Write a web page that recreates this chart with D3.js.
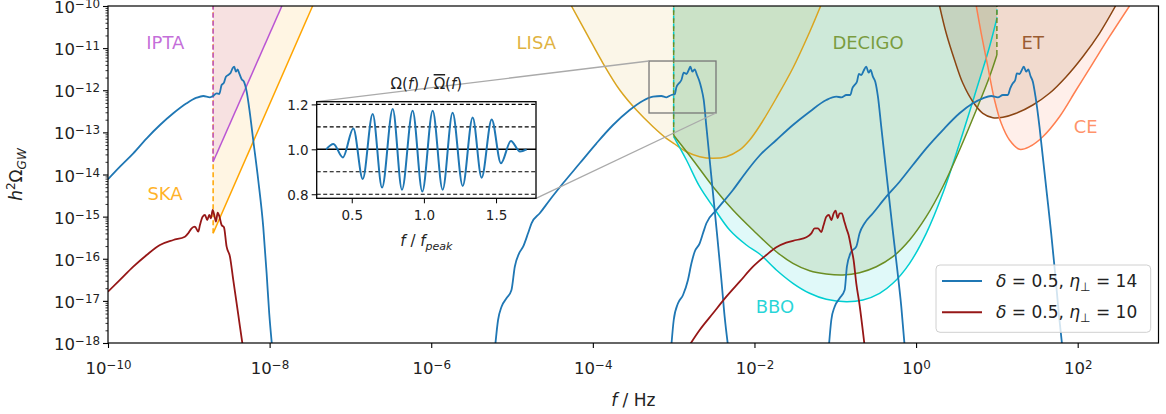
<!DOCTYPE html>
<html><head><meta charset="utf-8">
<script src="https://cdn.jsdelivr.net/npm/d3@7"></script>
<style>
body{margin:0;background:#fff;}
svg{display:block;font-family:"DejaVu Sans",sans-serif;}
</style>
</head><body>
<svg id="chart" width="1166" height="414"></svg>
<script>
// ---------- DATA (pairs are [log10 f/Hz, log10 h^2 Omega_GW]) ----------
const blueA = [[-10.0,-14.114],[-9.852,-13.815],[-9.687,-13.497],[-9.521,-13.141],[-9.357,-12.825],[-9.192,-12.547],[-9.027,-12.310],[-8.903,-12.177],[-8.821,-12.136],[-8.738,-12.167],[-8.698,-12.136],[-8.656,-12.072],[-8.623,-12.089],[-8.594,-11.875],[-8.565,-11.821],[-8.541,-11.678],[-8.512,-11.638],[-8.482,-11.583],[-8.458,-11.479],[-8.438,-11.441],[-8.417,-11.560],[-8.396,-11.503],[-8.376,-11.598],[-8.346,-11.740],[-8.318,-11.797],[-8.284,-12.034],[-8.244,-12.547],[-8.203,-13.181],[-8.141,-14.131],[-8.079,-15.239],[-8.037,-16.345],[-8.005,-17.295],[-7.975,-17.969],[-7.965,-18.17]];
const blueB = [[-5.21,-18.1],[-5.173,-17.454],[-5.130,-17.138],[-5.069,-16.939],[-5.007,-16.742],[-4.966,-16.189],[-4.913,-15.871],[-4.863,-15.714],[-4.802,-15.396],[-4.759,-15.158],[-4.657,-14.921],[-4.533,-14.605],[-4.369,-14.209],[-4.162,-13.734],[-3.955,-13.259],[-3.750,-12.825],[-3.544,-12.469],[-3.379,-12.248],[-3.255,-12.153],[-3.152,-12.136],[-3.090,-12.167],[-3.028,-12.113],[-2.987,-12.096],[-2.966,-11.930],[-2.934,-11.835],[-2.904,-11.757],[-2.876,-11.583],[-2.842,-11.614],[-2.814,-11.519],[-2.793,-11.441],[-2.768,-11.560],[-2.740,-11.503],[-2.711,-11.638],[-2.686,-11.757],[-2.657,-11.954],[-2.628,-12.231],[-2.595,-12.865],[-2.554,-13.656],[-2.513,-14.446],[-2.464,-15.396],[-2.409,-16.504],[-2.369,-17.376],[-2.325,-18.1]];
const blueC = [[-3.03,-18.1],[-2.999,-17.454],[-2.946,-17.058],[-2.884,-16.861],[-2.823,-16.504],[-2.780,-16.108],[-2.740,-15.833],[-2.678,-15.633],[-2.637,-15.396],[-2.595,-15.158],[-2.471,-14.843],[-2.266,-14.368],[-2.100,-13.934],[-1.936,-13.549],[-1.729,-13.181],[-1.524,-12.825],[-1.317,-12.509],[-1.111,-12.231],[-0.987,-12.153],[-0.925,-12.167],[-0.863,-12.113],[-0.814,-12.113],[-0.789,-11.954],[-0.761,-11.875],[-0.732,-11.797],[-0.707,-11.614],[-0.678,-11.638],[-0.649,-11.536],[-0.616,-11.441],[-0.587,-11.583],[-0.563,-11.519],[-0.534,-11.678],[-0.505,-11.797],[-0.472,-12.153],[-0.431,-12.865],[-0.390,-13.577],[-0.349,-14.290],[-0.294,-15.239],[-0.237,-16.189],[-0.183,-17.138],[-0.140,-18.1]];
const blueD = [[-1.08,-18.1],[-1.049,-17.454],[-1.008,-17.138],[-0.946,-16.939],[-0.884,-16.742],[-0.856,-16.189],[-0.802,-15.833],[-0.740,-15.714],[-0.699,-15.396],[-0.637,-15.158],[-0.534,-14.921],[-0.369,-14.527],[-0.204,-14.171],[-0.040,-13.774],[0.126,-13.378],[0.331,-12.944],[0.538,-12.547],[0.703,-12.310],[0.826,-12.191],[0.930,-12.136],[1.012,-12.167],[1.074,-12.113],[1.136,-12.113],[1.165,-11.954],[1.197,-11.835],[1.227,-11.757],[1.247,-11.598],[1.280,-11.614],[1.309,-11.519],[1.333,-11.441],[1.363,-11.560],[1.388,-11.503],[1.416,-11.662],[1.445,-11.797],[1.478,-12.153],[1.527,-12.865],[1.568,-13.577],[1.618,-14.446],[1.672,-15.396],[1.725,-16.426],[1.766,-17.295],[1.810,-18.1]];
const redA = [[-10.0,-16.782],[-9.852,-16.504],[-9.687,-16.189],[-9.521,-15.911],[-9.357,-15.674],[-9.192,-15.555],[-9.048,-15.477],[-9.007,-15.396],[-8.965,-15.277],[-8.924,-15.239],[-8.883,-15.358],[-8.862,-15.199],[-8.829,-15.002],[-8.800,-14.961],[-8.772,-15.080],[-8.747,-14.961],[-8.726,-15.040],[-8.705,-14.843],[-8.685,-14.961],[-8.664,-15.120],[-8.643,-14.907],[-8.623,-14.985],[-8.594,-15.199],[-8.565,-15.253],[-8.532,-15.714],[-8.491,-15.951],[-8.450,-16.504],[-8.408,-17.058],[-8.367,-17.613],[-8.330,-18.1]];
const redB = [[-2.82,-18.1],[-2.678,-17.691],[-2.513,-17.295],[-2.348,-16.901],[-2.183,-16.545],[-2.019,-16.189],[-1.853,-15.911],[-1.729,-15.728],[-1.606,-15.619],[-1.482,-15.555],[-1.358,-15.491],[-1.296,-15.396],[-1.255,-15.277],[-1.215,-15.277],[-1.173,-15.365],[-1.144,-15.199],[-1.111,-15.002],[-1.079,-14.961],[-1.049,-15.080],[-1.020,-14.921],[-0.996,-14.859],[-0.971,-15.033],[-0.946,-14.921],[-0.918,-14.921],[-0.893,-15.080],[-0.863,-15.277],[-0.835,-15.436],[-0.802,-15.752],[-0.773,-16.030],[-0.740,-16.583],[-0.699,-17.098],[-0.635,-18.1]];

const ipta   = [[-8.699,-13.696],[-7.848,-10]];
const ska    = [[-8.699,-15.396],[-7.468,-10]];
const lisa   = [[-4.265,-10],[-4.079,-10.648],[-3.874,-11.360],[-3.667,-11.994],[-3.461,-12.469],[-3.255,-12.865],[-3.090,-13.141],[-2.987,-13.276],[-2.842,-13.459],[-2.678,-13.577],[-2.513,-13.615],[-2.348,-13.577],[-2.183,-13.418],[-2.059,-13.181],[-1.936,-12.849],[-1.729,-12.184],[-1.524,-11.472],[-1.317,-10.617],[-1.181,-10]];
const decigo = [[-3.0,-13.07],[-2.761,-13.656],[-2.513,-14.290],[-2.266,-14.843],[-2.019,-15.318],[-1.729,-15.833],[-1.524,-16.108],[-1.317,-16.284],[-1.111,-16.362],[-0.905,-16.386],[-0.699,-16.331],[-0.492,-16.189],[-0.287,-15.951],[-0.080,-15.555],[0.126,-15.002],[0.331,-14.290],[0.538,-13.418],[0.745,-12.469],[0.909,-11.678],[1.0,-11.163]];
const bbo    = [[-3.0,-13.1],[-2.842,-13.656],[-2.678,-14.290],[-2.513,-14.764],[-2.307,-15.318],[-2.100,-15.674],[-1.936,-15.887],[-1.729,-16.267],[-1.524,-16.583],[-1.317,-16.820],[-1.111,-16.963],[-0.863,-17.020],[-0.658,-16.979],[-0.451,-16.820],[-0.287,-16.583],[-0.080,-16.108],[0.126,-15.396],[0.331,-14.446],[0.538,-13.259],[0.745,-11.994],[0.909,-10.966],[1.0,-10.292]];
const et     = [[0.291,-10],[0.373,-10.648],[0.476,-11.282],[0.579,-11.835],[0.703,-12.272],[0.826,-12.547],[0.950,-12.652],[1.074,-12.642],[1.239,-12.547],[1.445,-12.350],[1.651,-12.072],[1.858,-11.678],[2.063,-11.204],[2.270,-10.648],[2.468,-10]];
const ce     = [[0.745,-10],[0.806,-10.648],[0.888,-11.441],[0.971,-12.231],[1.054,-12.785],[1.156,-13.181],[1.280,-13.402],[1.404,-13.340],[1.568,-13.103],[1.775,-12.628],[1.981,-11.994],[2.187,-11.360],[2.393,-10.729],[2.641,-10]];

// zoomed region (f range, h^2 Omega range), log10
const zoomBoxF = [-3.305, -2.476];
const zoomBoxO = [-12.54, -11.306];

// inset: Omega / Omega_bar versus f / f_peak
const insetX = [0.322,0.373,0.438,0.511,0.576,0.645,0.710,0.784,0.848,0.922,0.989,1.061,1.130,1.199,1.269,1.338,1.400,1.470,1.534,1.603,1.666,1.712];
const insetY = [1.0,1.024,0.964,1.093,0.868,1.157,0.830,1.179,0.820,1.172,0.812,1.172,0.820,1.163,0.837,1.142,0.874,1.133,0.938,1.037,0.990,1.0];
const insetRefLines = [0.8, 0.9, 1.0, 1.1, 1.2];

const xTickExps = [-10,-8,-6,-4,-2,0,2];
const yTickExps = [-18,-17,-16,-15,-14,-13,-12,-11,-10];
const insetXTicks = [0.5, 1.0, 1.5];
const insetYTicks = [0.8, 1.0, 1.2];

const legendLabels = ["14", "10"];

// ---------- LAYOUT ----------
const M = {l:108, r:1158.5, t:6, b:343};
const x = d3.scaleLog().domain([1e-10, 1e3]).range([M.l, M.r]);
const y = d3.scaleLog().domain([1e-18, 1e-10]).range([M.b, M.t]);
const P = a => a.map(d => [Math.pow(10,d[0]), Math.pow(10,d[1])]);
const TOP = 1e-10;

const svg = d3.select("#chart");
const defs = svg.append("defs");
defs.append("clipPath").attr("id","plotclip").append("rect")
  .attr("x",M.l).attr("y",M.t).attr("width",M.r-M.l).attr("height",M.b-M.t);

const plot = svg.append("g").attr("clip-path","url(#plotclip)");

const smooth = d3.line().x(d=>x(d[0])).y(d=>y(d[1])).curve(d3.curveCatmullRom.alpha(0.5));
const mono = d3.line().x(d=>x(d[0])).y(d=>y(d[1])).curve(d3.curveMonotoneX);
const straight = d3.line().x(d=>x(d[0])).y(d=>y(d[1]));

const detectors = [
  {name:"SKA",    data:ska,    color:"#ffa500", kind:"pta",  op:0.11},
  {name:"IPTA",   data:ipta,   color:"#ba55d3", kind:"pta",  op:0.12},
  {name:"LISA",   data:lisa,   color:"#daa520", kind:"curve",op:0.1},
  {name:"BBO",    data:bbo,    color:"#00ced1", kind:"band", op:0.12},
  {name:"DECIGO", data:decigo, color:"#6b8e23", kind:"band", op:0.15},
  {name:"ET",     data:et,     color:"#8b4513", kind:"curve",op:0.13},
  {name:"CE",     data:ce,     color:"#ff7f50", kind:"curve",op:0.12}
];

// fills
detectors.forEach(dt => {
  const pts = P(dt.data);
  const f0 = pts[0][0], f1 = pts[pts.length-1][0];
  let d;
  if (dt.kind === "pta") {
    d = straight(pts) + `L${x(f0)},${y(TOP)}Z`;
  } else {
    d = smooth(pts) + `L${x(f1)},${y(TOP)}L${x(f0)},${y(TOP)}Z`;
  }
  plot.append("path").attr("d", d).attr("fill", dt.color).attr("fill-opacity", dt.op).attr("stroke","none");
});
// lines
detectors.forEach(dt => {
  const pts = P(dt.data);
  const first = pts[0], last = pts[pts.length-1];
  const dash = dt.name === "BBO" ? {da:"5,3", off:4} : {da:"5,3", off:0};
  if (dt.kind === "pta") {
    plot.append("path").attr("d", straight(pts)).attr("fill","none").attr("stroke",dt.color).attr("stroke-width",1.5);
    plot.append("path").attr("d", straight([first,[first[0],TOP]])).attr("fill","none")
      .attr("stroke",dt.color).attr("stroke-width",1.5).attr("stroke-dasharray","5,3");
  } else {
    plot.append("path").attr("d", smooth(pts)).attr("fill","none").attr("stroke",dt.color).attr("stroke-width",1.5);
    if (dt.kind === "band") {
      plot.append("path").attr("d", straight([first,[first[0],TOP]])).attr("fill","none")
        .attr("stroke",dt.color).attr("stroke-width",1.5).attr("stroke-dasharray",dash.da).attr("stroke-dashoffset",dash.off);
      plot.append("path").attr("d", straight([last,[last[0],TOP]])).attr("fill","none")
        .attr("stroke",dt.color).attr("stroke-width",1.5).attr("stroke-dasharray",dash.da).attr("stroke-dashoffset",dash.off);
    }
  }
});

// detector labels
const labelFont = 18;
[["IPTA","#ba55d3",165.3,49],["SKA","#ffa500",165,200],["LISA","#daa520",536.3,49],
 ["DECIGO","#6b8e23",868,49],["ET","#8b4513",1032.8,49],["CE","#ff7f50",1085.7,133],["BBO","#00ced1",775,313]]
.forEach(([t,c,px,py]) => {
  svg.append("text").attr("x",px).attr("y",py).attr("text-anchor","middle")
    .attr("font-size",labelFont).attr("fill",c).attr("fill-opacity",0.85).text(t);
});

// spectra
const BLUE = "#1f77b4", RED = "#961717";
[blueA, blueB, blueC, blueD].forEach(s => {
  plot.append("path").attr("d", mono(P(s))).attr("fill","none").attr("stroke",BLUE).attr("stroke-width",1.8).attr("stroke-linejoin","round");
});
[redA, redB].forEach(s => {
  plot.append("path").attr("d", mono(P(s))).attr("fill","none").attr("stroke",RED).attr("stroke-width",1.8).attr("stroke-linejoin","round");
});

// ---------- AXES ----------
const fmtExp = e => (e < 0 ? "\u2212" + (-e) : String(e));
function powTen(sel){
  sel.each(function(d){
    const e = Math.round(Math.log10(d));
    const t = d3.select(this); t.text(null);
    t.append("tspan").text("10");
    t.append("tspan").attr("dy","-0.42em").attr("font-size","0.72em").text(fmtExp(e));
  });
}
const gx = svg.append("g").attr("transform",`translate(0,${M.b})`)
  .call(d3.axisBottom(x).tickValues(xTickExps.map(e=>Math.pow(10,e))).tickSize(5).tickSizeOuter(0));
gx.attr("font-size",16.5).attr("font-family","DejaVu Sans");
gx.select(".domain").remove();
gx.selectAll(".tick line").attr("stroke","#000").attr("stroke-width",1.1);
gx.selectAll(".tick text").attr("y",31).attr("dy",0).attr("fill","#222").call(powTen);

const gy = svg.append("g").attr("transform",`translate(${M.l},0)`)
  .call(d3.axisLeft(y).tickValues(yTickExps.map(e=>Math.pow(10,e))).tickSize(5).tickSizeOuter(0));
gy.attr("font-size",16.5).attr("font-family","DejaVu Sans");
gy.select(".domain").remove();
gy.selectAll(".tick line").attr("stroke","#000").attr("stroke-width",1.1);
gy.selectAll(".tick text").attr("x",-8).attr("dy",0).attr("y",6.5).attr("fill","#222").call(powTen);

const minorVals = y.ticks().filter(v => Math.abs(Math.log10(v) - Math.round(Math.log10(v))) > 1e-6);
const gym = svg.append("g").attr("transform",`translate(${M.l},0)`)
  .call(d3.axisLeft(y).tickValues(minorVals).tickSize(2.5).tickFormat(""));
gym.select(".domain").remove();
gym.selectAll(".tick line").attr("stroke","#000").attr("stroke-width",0.8);

svg.append("rect").attr("x",M.l).attr("y",M.t).attr("width",M.r-M.l).attr("height",M.b-M.t)
  .attr("fill","none").attr("stroke","#000").attr("stroke-width",1.2);

// axis labels
const xl = svg.append("text").attr("x",(M.l+M.r)/2).attr("y",406).attr("text-anchor","middle").attr("font-size",17).attr("fill","#222");
xl.append("tspan").attr("font-style","italic").text("f");
xl.append("tspan").text(" / Hz");

const yl = svg.append("text").attr("transform",`translate(22,${(M.t+M.b)/2}) rotate(-90)`).attr("text-anchor","middle").attr("font-size",17).attr("fill","#222");
yl.append("tspan").attr("font-style","italic").text("h");
yl.append("tspan").attr("dy",-7).attr("font-size",12).text("2");
yl.append("tspan").attr("dy",7).text("Ω");
yl.append("tspan").attr("dy",4).attr("font-size",12).attr("font-style","italic").text("GW");

// ---------- ZOOM BOX + CONNECTORS ----------
const I = {l:316.7, r:536, t:101.7, b:198.3};
const bx0 = x(Math.pow(10,zoomBoxF[0])), bx1 = x(Math.pow(10,zoomBoxF[1]));
const by0 = y(Math.pow(10,zoomBoxO[1])), by1 = y(Math.pow(10,zoomBoxO[0]));
svg.append("rect").attr("x",bx0).attr("y",by0).attr("width",bx1-bx0).attr("height",by1-by0)
  .attr("fill","none").attr("stroke","#777").attr("stroke-width",1.3);
svg.append("line").attr("x1",I.l).attr("y1",I.t).attr("x2",bx0).attr("y2",by0).attr("stroke","#aaa").attr("stroke-width",1.3);
svg.append("line").attr("x1",I.r).attr("y1",I.b).attr("x2",bx1).attr("y2",by1).attr("stroke","#aaa").attr("stroke-width",1.3);

// ---------- INSET ----------
const ix = d3.scaleLinear().domain([0.257, 1.777]).range([I.l, I.r]);
const iy = d3.scaleLinear().domain([0.782, 1.212]).range([I.b, I.t]);
const inset = svg.append("g");
inset.append("rect").attr("x",I.l).attr("y",I.t).attr("width",I.r-I.l).attr("height",I.b-I.t).attr("fill","#fff");
defs.append("clipPath").attr("id","insetclip").append("rect").attr("x",I.l).attr("y",I.t).attr("width",I.r-I.l).attr("height",I.b-I.t);
const ic = inset.append("g").attr("clip-path","url(#insetclip)");
insetRefLines.forEach(v => {
  ic.append("line").attr("x1",I.l).attr("x2",I.r).attr("y1",iy(v)).attr("y2",iy(v))
    .attr("stroke","#000").attr("stroke-width", v===1.0 ? 1.5 : 1.1)
    .attr("stroke-dasharray", v===1.0 ? null : "4,2.5");
});
const iline = d3.line().x((d,i)=>ix(insetX[i])).y(d=>iy(d)).curve(d3.curveMonotoneX);
ic.append("path").attr("d", iline(insetY)).attr("fill","none").attr("stroke",BLUE).attr("stroke-width",2);

const gix = inset.append("g").attr("transform",`translate(0,${I.b})`)
  .call(d3.axisBottom(ix).tickValues(insetXTicks).tickSize(5).tickSizeOuter(0).tickFormat(d3.format(".1f")));
gix.attr("font-size",13.5).attr("font-family","DejaVu Sans");
gix.select(".domain").remove();
gix.selectAll(".tick text").attr("y",10).attr("dy","0.9em").attr("fill","#222");
const giy = inset.append("g").attr("transform",`translate(${I.l},0)`)
  .call(d3.axisLeft(iy).tickValues(insetYTicks).tickSize(5).tickSizeOuter(0).tickFormat(d3.format(".1f")));
giy.attr("font-size",13.5).attr("font-family","DejaVu Sans");
giy.select(".domain").remove();
giy.selectAll(".tick text").attr("x",-8).attr("dy","0.36em").attr("fill","#222");
inset.append("rect").attr("x",I.l).attr("y",I.t).attr("width",I.r-I.l).attr("height",I.b-I.t)
  .attr("fill","none").attr("stroke","#000").attr("stroke-width",1.3);

const it = inset.append("text").attr("x",(I.l+I.r)/2).attr("y",89).attr("text-anchor","middle").attr("font-size",15).attr("fill","#222");
it.append("tspan").text("Ω(");
it.append("tspan").attr("font-style","italic").text("f");
it.append("tspan").text(") / ");
it.append("tspan").attr("style","text-decoration: overline").text("Ω");
it.append("tspan").text("(");
it.append("tspan").attr("font-style","italic").text("f");
it.append("tspan").text(")");

const ixl = inset.append("text").attr("x",(I.l+I.r)/2).attr("y",246).attr("text-anchor","middle").attr("font-size",15).attr("fill","#222");
ixl.append("tspan").attr("font-style","italic").text("f");
ixl.append("tspan").text(" / ");
ixl.append("tspan").attr("font-style","italic").text("f");
ixl.append("tspan").attr("dy",4).attr("font-size",11).attr("font-style","italic").text("peak");

// ---------- LEGEND ----------
const L = {x:936, y:265, w:214.7, h:67.3};
const lg = svg.append("g");
lg.append("rect").attr("x",L.x).attr("y",L.y).attr("width",L.w).attr("height",L.h).attr("rx",4)
  .attr("fill","#fff").attr("fill-opacity",0.8).attr("stroke","#d0d0d0").attr("stroke-width",1);
[[BLUE, legendLabels[0], 281],[RED, legendLabels[1], 312.3]].forEach(([c, lab, ly]) => {
  lg.append("line").attr("x1",942).attr("x2",982).attr("y1",ly).attr("y2",ly).attr("stroke",c).attr("stroke-width",2);
  const t = lg.append("text").attr("x",996).attr("y",ly+6).attr("font-size",17).attr("fill","#222");
  t.append("tspan").attr("font-style","italic").text("δ");
  t.append("tspan").text(" = 0.5, ");
  t.append("tspan").attr("font-style","italic").text("η");
  t.append("tspan").attr("dy",4).attr("font-size",12).text("⊥");
  t.append("tspan").attr("dy",-4).text(" = " + lab);
});
</script>
</body></html>
